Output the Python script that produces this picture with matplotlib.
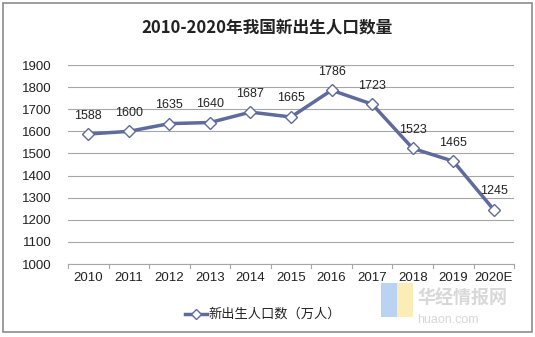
import matplotlib.pyplot as plt
from matplotlib.patches import Rectangle
from matplotlib.lines import Line2D

plt.rcParams['font.family'] = ['Liberation Sans', 'Noto Sans CJK SC', 'DejaVu Sans']

years = ["2010", "2011", "2012", "2013", "2014", "2015", "2016", "2017", "2018", "2019", "2020E"]
births = [1588, 1600, 1635, 1640, 1687, 1665, 1786, 1723, 1523, 1465, 1245]
yticks = [1000, 1100, 1200, 1300, 1400, 1500, 1600, 1700, 1800, 1900]

line_color = "#5E6B9C"
grid_color = "#A6A6A6"

fig = plt.figure(figsize=(5.35, 3.37), dpi=100)
ax = fig.add_axes([0.127, 0.2166, 0.834, 0.5904])

x = list(range(len(years)))
ax.plot(x, births, color=line_color, linewidth=2.5, marker="D", markersize=6,
        markerfacecolor="white", markeredgecolor=line_color, markeredgewidth=1.0,
        zorder=3)
for xi, v in zip(x, births):
    ax.annotate(str(v), (xi, v), xytext=(0, 9), textcoords="offset points",
                ha="center", va="bottom", fontsize=9, color="#222222")

ax.set_xlim(-0.5, len(years) - 0.5)
ax.set_ylim(1000, 1900)
ax.set_yticks(yticks)
ax.set_xticks(x)
ax.set_xticklabels(years)
ax.grid(axis="y", color=grid_color, linewidth=0.8)
ax.set_axisbelow(True)
for s in ["top", "right", "left"]:
    ax.spines[s].set_visible(False)
ax.spines["bottom"].set_color(grid_color)
ax.tick_params(axis="y", length=0, labelsize=9.5, pad=12, colors="#222222")
ax.tick_params(axis="x", length=0, labelsize=9.5, pad=6, colors="#222222")
# category boundary ticks
for b in [i - 0.5 for i in range(len(years) + 1)]:
    ax.plot([b, b], [1000, 1000 - 900 * 0.022], color=grid_color, linewidth=0.8,
            clip_on=False)

fig.text(0.5, 0.92, "2010-2020年我国新出生人口数量", ha="center", va="center",
         fontsize=12, fontweight="bold", family=["Noto Sans CJK SC"], color="#222222")

# legend
leg_y = 0.068
fig.add_artist(Line2D([0.346, 0.386], [leg_y, leg_y], color=line_color, linewidth=2.5,
                      transform=fig.transFigure))
fig.add_artist(Line2D([0.366], [leg_y], marker="D", markersize=5, markerfacecolor="white",
                      markeredgecolor=line_color, transform=fig.transFigure))
fig.text(0.39, leg_y, "新出生人口数（万人）", ha="left", va="center", fontsize=9.5,
         family=["Noto Sans CJK SC"], color="#222222")

# watermark
fig.text(0.78, 0.115, "华经情报网", ha="left", va="center", fontsize=13,
         family=["Noto Sans CJK SC"], color="#D8D8D8", fontweight="bold")
fig.text(0.78, 0.05, "huaon.com", ha="left", va="center", fontsize=9,
         color="#D8D8D8")
fig.add_artist(Rectangle((0.712, 0.06), 0.03, 0.1, transform=fig.transFigure,
                         facecolor="#A9C8F0", edgecolor="none", alpha=0.8))
fig.add_artist(Rectangle((0.742, 0.06), 0.03, 0.1, transform=fig.transFigure,
                         facecolor="#FBE9A6", edgecolor="none", alpha=0.8))

# outer border
fig.add_artist(Rectangle((0.006, 0.015), 0.988, 0.975, transform=fig.transFigure,
                         facecolor="none", edgecolor="#8C8C8C", linewidth=1.2))

fig.savefig("out.png", dpi=100)
